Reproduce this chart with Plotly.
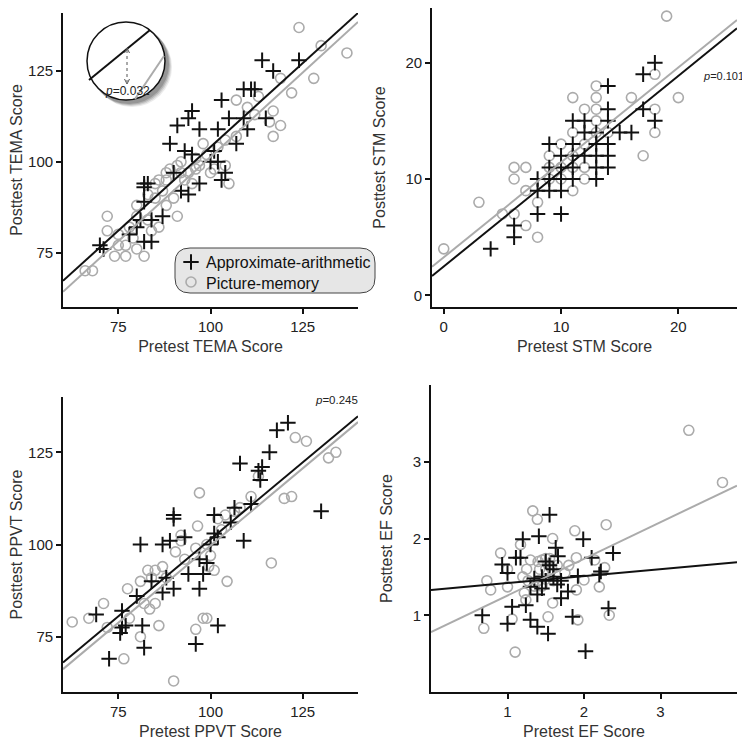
import plotly.graph_objects as go

W, H = 750, 741          # browser window
OFF = 8                  # default page body margin
FW, FH = W - OFF, H - OFF

# ---------------- DATA ----------------
# Panel 1: TEMA
tema_aa_pre = [70, 71, 78, 80, 81, 84, 82, 84, 87, 82, 82, 82, 83, 90, 92, 94, 89, 91, 94, 95, 93, 95, 97, 97,
               100, 102, 104, 103, 101, 102, 103, 105, 107, 109, 110, 109, 111, 112, 115, 114, 117, 124]
tema_aa_post = [77, 76, 80, 82, 84, 84, 78, 78, 85, 89, 94, 93, 94, 97, 92, 91, 105, 110, 112, 114, 103, 102, 109, 94,
                100, 100, 97, 95, 103, 109, 117, 112, 105, 112, 109, 120, 120, 120, 112, 128, 125, 128]
tema_pm_pre = [124, 130, 137, 128, 122, 119, 117, 119, 117, 113, 107, 105, 100, 98, 96, 92, 92, 88, 88, 85, 83, 80,
               91, 90, 86, 83, 72, 72, 75, 74, 77, 80, 82, 78, 66, 68, 86, 89, 91, 94, 96, 99, 102, 104, 107, 110,
               112, 75, 79, 84, 88, 93, 97, 101, 85, 80, 77, 104, 95, 87, 116]
tema_pm_post = [137, 132, 130, 123, 119, 123, 114, 110, 107, 118, 117, 94, 97, 105, 98, 100, 97, 97, 95, 94, 91, 88,
                85, 90, 82, 84, 85, 81, 77, 74, 74, 76, 74, 82, 70, 70, 95, 98, 99, 97, 101, 102, 104, 106, 107, 115,
                113, 80, 79, 81, 88, 95, 99, 98, 90, 85, 77, 99, 94, 92, 111]

# Panel 2: STM
stm_aa_pre = [4, 6, 6, 8, 10, 8, 9, 10, 8, 9, 11, 9, 10, 11, 10, 9, 11, 12, 11, 12, 12, 13, 13, 13, 13, 13,
              14, 14, 14, 14, 14, 14, 15, 16, 17, 17, 18, 18, 10, 11]
stm_aa_post = [4, 5, 6, 7, 7, 9, 9, 9, 10, 10, 10, 11, 11, 11, 12, 13, 13, 12, 15, 15, 14, 14, 12, 10, 11, 13,
               11, 12, 13, 15, 16, 18, 14, 14, 16, 19, 20, 15, 10, 12]
stm_pm_pre = [0, 3, 5, 6, 6, 6, 7, 7, 7, 8, 8, 11, 11, 11, 12, 12, 13, 13, 13, 13, 16, 17, 18, 18, 18, 19, 20,
              9, 10, 10, 11, 12, 10, 9, 12, 13, 14, 11, 9]
stm_pm_post = [4, 8, 7, 7, 11, 10, 11, 9, 6, 5, 8, 14, 9, 17, 13, 10, 18, 17, 16, 14, 17, 12, 19, 16, 14, 24, 17,
               10, 10, 11, 12, 11, 13, 12, 16, 15, 14, 11, 11]

# Panel 3: PPVT
ppvt_aa_pre = [72.5, 69, 76, 75.5, 76, 77, 81.5, 82, 80, 81, 84, 87, 87, 88, 90, 90, 90, 94, 93, 97, 96, 98, 101,
               99, 102, 102, 101, 105.5, 106.5, 108, 109, 111, 114, 113, 113.5, 116, 118, 121, 130, 89, 100, 97]
ppvt_aa_post = [69, 81, 82, 76, 77.5, 78, 78, 72, 86, 100, 90, 100, 87, 91, 108, 107, 88, 92, 102, 88, 73, 92, 108,
                95, 102, 78, 103, 106, 110, 122, 101, 111, 121, 120, 117.5, 125, 131, 133, 109, 101, 100, 96]
ppvt_pm_pre = [62.5, 67, 71, 72, 76.5, 77.5, 81, 81, 83, 83.5, 85, 86, 87, 90, 90.5, 92, 92, 96, 96.5, 97, 98, 101,
               104.5, 102, 106.5, 113, 116.5, 120, 122, 123, 126, 132, 134, 99.5, 99, 85, 84, 88, 93, 96, 99, 103,
               104, 108, 111, 100, 78, 82]
ppvt_pm_post = [79, 80, 84, 77.5, 69, 88, 90, 75, 93, 82.5, 84, 78, 94, 63, 98, 101, 102.5, 77, 105, 114, 80, 93,
                90, 107, 109, 118.5, 95, 112.5, 113, 129, 128, 123.5, 125, 94, 80, 93, 91, 91, 96, 99, 100, 104,
                108, 110, 113, 97, 80, 84]

# Panel 4: EF
ef_aa_pre = [0.67, 1.0, 1.0, 0.93, 1.11, 1.17, 1.06, 1.2, 1.24, 1.41, 1.55, 1.39, 1.3, 1.39, 1.53, 1.63, 1.66, 1.7,
             1.79, 1.85, 1.92, 1.99, 2.1, 2.2, 2.22, 2.38, 2.32, 2.02, 1.3, 1.35, 1.45, 1.5, 1.6, 1.7, 1.55, 1.6,
             1.5, 1.45, 1.65]
ef_aa_post = [1.0, 0.89, 1.55, 1.66, 1.75, 1.75, 1.11, 1.99, 1.13, 2.03, 2.31, 1.27, 0.94, 0.85, 0.76, 1.88, 1.77,
              1.22, 1.31, 0.98, 1.51, 1.99, 1.75, 1.53, 1.57, 1.81, 1.09, 0.53, 1.37, 1.48, 1.5, 1.45, 1.5, 1.45,
              1.65, 1.6, 1.7, 1.35, 1.4]
ef_pm_pre = [3.37, 3.81, 2.29, 1.88, 1.33, 1.39, 1.59, 0.91, 0.73, 0.78, 0.69, 1.0, 1.1, 1.06, 1.17, 1.24, 1.53,
             1.59, 1.92, 1.9, 2.2, 2.27, 2.33, 2.0, 1.9, 2.14, 1.22, 1.3, 1.4, 1.45, 1.5, 1.55, 1.6, 1.65, 1.42,
             1.5, 1.58, 1.27, 1.4, 1.5, 1.6, 1.35, 1.45, 1.75, 1.8, 1.25, 1.0, 1.2]
ef_pm_post = [3.41, 2.73, 2.18, 2.1, 2.36, 2.25, 2.0, 1.81, 1.45, 1.33, 0.83, 1.37, 0.52, 0.95, 1.92, 1.2, 0.98,
              1.16, 0.94, 1.33, 1.37, 1.62, 1.0, 1.46, 1.75, 1.72, 1.29, 1.72, 1.7, 1.72, 1.74, 1.74, 1.72, 1.65,
              1.6, 1.6, 1.6, 1.45, 1.45, 1.47, 1.45, 1.38, 1.38, 1.55, 1.65, 1.6, 1.6, 1.5]

# Regression lines: (intercept, slope)
fit_aa = [(11.85, 0.9225), (2.48, 0.819), (17.9, 0.835), (1.33, 0.09)]
fit_pm = [(8.46, 0.929), (3.27, 0.816), (15.95, 0.8375), (0.78, 0.4775)]

p_labels = ["0.032", "0.101", "0.245"]

x_titles = ["Pretest TEMA Score", "Pretest STM Score", "Pretest PPVT Score", "Pretest EF Score"]
y_titles = ["Posttest TEMA Score", "Posttest STM Score", "Posttest PPVT Score", "Posttest EF Score"]
x_ranges = [[60, 140], [-1, 25], [60, 140], [0, 4]]
y_ranges = [[60, 141], [-1, 24.7], [60, 140], [0, 4]]
x_ticks = [[75, 100, 125], [0, 10, 20], [75, 100, 125], [1, 2, 3]]
y_ticks = [[75, 100, 125], [0, 10, 20], [75, 100, 125], [1, 2, 3]]
legend_names = ["Approximate-arithmetic", "Picture-memory"]


# ---------------- LAYOUT HELPERS (page pixels -> paper) ----------------
def px(x):
    return (x - OFF) / FW


def py(y):
    return 1 - (y - OFF) / FH


def clamp(v):
    return max(0.0, min(1.0, v))


# plot areas in page pixels: (left, right, top, bottom)
boxes = [(63, 358, 13, 307), (432, 737, 8, 307), (63, 358, 397, 692), (431, 737, 385, 692)]

BLACK = "#111111"
GRAY = "#ababab"
FONT = "Liberation Sans, Arial, Helvetica, sans-serif"

fig = go.Figure()

aa_sets = [(tema_aa_pre, tema_aa_post), (stm_aa_pre, stm_aa_post), (ppvt_aa_pre, ppvt_aa_post),
           (ef_aa_pre, ef_aa_post)]
pm_sets = [(tema_pm_pre, tema_pm_post), (stm_pm_pre, stm_pm_post), (ppvt_pm_pre, ppvt_pm_post),
           (ef_pm_pre, ef_pm_post)]

for i in range(4):
    xa = "x" if i == 0 else f"x{i+1}"
    ya = "y" if i == 0 else f"y{i+1}"
    px_, py_ = pm_sets[i]
    fig.add_trace(go.Scatter(x=px_, y=py_, mode="markers", xaxis=xa, yaxis=ya, showlegend=False,
                             marker=dict(symbol="circle-open", size=10, color=GRAY,
                                         line=dict(width=1.6, color=GRAY))))
    ax_, ay_ = aa_sets[i]
    fig.add_trace(go.Scatter(x=ax_, y=ay_, mode="markers", xaxis=xa, yaxis=ya, showlegend=False,
                             marker=dict(symbol="cross-thin", size=11, color=BLACK,
                                         line=dict(width=2, color=BLACK))))
    lo, hi = x_ranges[i]
    b0, b1 = fit_pm[i]
    fig.add_trace(go.Scatter(x=[lo, hi], y=[b0 + b1 * lo, b0 + b1 * hi], mode="lines", xaxis=xa, yaxis=ya,
                             showlegend=False, line=dict(color=GRAY, width=2)))
    b0, b1 = fit_aa[i]
    fig.add_trace(go.Scatter(x=[lo, hi], y=[b0 + b1 * lo, b0 + b1 * hi], mode="lines", xaxis=xa, yaxis=ya,
                             showlegend=False, line=dict(color=BLACK, width=2)))

# overlay pixel axis for legend symbols
fig.add_trace(go.Scatter(x=[191], y=[262], mode="markers", xaxis="x5", yaxis="y5", showlegend=False,
                         marker=dict(symbol="cross-thin", size=11, color=BLACK, line=dict(width=2, color=BLACK))))
fig.add_trace(go.Scatter(x=[191], y=[282], mode="markers", xaxis="x5", yaxis="y5", showlegend=False,
                         marker=dict(symbol="circle-open", size=10, color=GRAY, line=dict(width=1.6, color=GRAY))))

layout = dict(
    width=FW, height=FH, margin=dict(l=0, r=0, t=0, b=0),
    paper_bgcolor="white", plot_bgcolor="rgba(0,0,0,0)",
    font=dict(family=FONT, color="#222"),
    showlegend=False,
)

for i in range(4):
    l, r, t, b = boxes[i]
    xk = "xaxis" if i == 0 else f"xaxis{i+1}"
    yk = "yaxis" if i == 0 else f"yaxis{i+1}"
    xa = "x" if i == 0 else f"x{i+1}"
    ya = "y" if i == 0 else f"y{i+1}"
    common = dict(showline=True, linecolor="#111", linewidth=1.8, ticks="outside", ticklen=5, tickwidth=1.5,
                  tickcolor="#111", showgrid=False, zeroline=False, automargin=False,
                  tickfont=dict(size=15, color="#222", family=FONT))
    layout[xk] = dict(common, domain=[clamp(px(l)), clamp(px(r))], range=x_ranges[i], tickvals=x_ticks[i],
                      anchor=ya,
                      title=dict(text=x_titles[i], font=dict(size=16, color="#333", family=FONT), standoff=7))
    layout[yk] = dict(common, domain=[clamp(py(b)), clamp(py(t))], range=y_ranges[i], tickvals=y_ticks[i],
                      anchor=xa,
                      title=dict(text=y_titles[i], font=dict(size=16, color="#333", family=FONT), standoff=16))

layout["xaxis5"] = dict(domain=[0, 1], range=[OFF, W], visible=False, anchor="y5", fixedrange=True)
layout["yaxis5"] = dict(domain=[0, 1], range=[H, OFF], visible=False, anchor="x5", fixedrange=True)

fig.update_layout(**layout)


def rounded_rect(x0, y0, x1, y1, r):
    return (f"M {px(x0 + r)} {py(y0)} L {px(x1 - r)} {py(y0)} "
            f"Q {px(x1)} {py(y0)} {px(x1)} {py(y0 + r)} L {px(x1)} {py(y1 - r)} "
            f"Q {px(x1)} {py(y1)} {px(x1 - r)} {py(y1)} L {px(x0 + r)} {py(y1)} "
            f"Q {px(x0)} {py(y1)} {px(x0)} {py(y1 - r)} L {px(x0)} {py(y0 + r)} "
            f"Q {px(x0)} {py(y0)} {px(x0 + r)} {py(y0)} Z")


shapes = []
# legend box
shapes.append(dict(type="path", xref="paper", yref="paper", path=rounded_rect(175, 248, 375, 293, 15),
                   fillcolor="#e6e6e6", line=dict(color="#444", width=1), layer="below"))

# inset circle (magnifier)
cx, cy, rr = 126, 61, 39
for off, op in [(6, 0.10), (5, 0.15), (4, 0.2), (3, 0.25)]:
    shapes.append(dict(type="circle", xref="paper", yref="paper",
                       x0=px(cx - rr + off - 1), x1=px(cx + rr + off + 1),
                       y0=py(cy + rr + off + 1), y1=py(cy - rr + off - 1),
                       fillcolor=f"rgba(60,60,60,{op})", line=dict(width=0), layer="above"))
shapes.append(dict(type="circle", xref="paper", yref="paper",
                   x0=px(cx - rr), x1=px(cx + rr), y0=py(cy + rr), y1=py(cy - rr),
                   fillcolor="white", line=dict(color="#111", width=1.5), layer="above"))
shapes.append(dict(type="line", xref="paper", yref="paper", x0=px(89), y0=py(80), x1=px(150), y1=py(30),
                   line=dict(color="#111", width=2), layer="above"))
shapes.append(dict(type="line", xref="paper", yref="paper", x0=px(135), y0=py(99), x1=px(164), y1=py(56),
                   line=dict(color=GRAY, width=2), layer="above"))
shapes.append(dict(type="line", xref="paper", yref="paper", x0=px(127), y0=py(50), x1=px(127), y1=py(82),
                   line=dict(color="#555", width=1, dash="dot"), layer="above"))
shapes.append(dict(type="path", xref="paper", yref="paper",
                   path=f"M {px(124.5)} {py(53)} L {px(127)} {py(48)} L {px(129.5)} {py(53)}",
                   line=dict(color="#555", width=1), layer="above"))
shapes.append(dict(type="path", xref="paper", yref="paper",
                   path=f"M {px(124.5)} {py(79)} L {px(127)} {py(84)} L {px(129.5)} {py(79)}",
                   line=dict(color="#555", width=1), layer="above"))

annotations = []
annotations.append(dict(xref="paper", yref="paper", x=px(128), y=py(91), xanchor="center", yanchor="middle",
                        text=f"<i>p</i>={p_labels[0]}", showarrow=False,
                        font=dict(size=12, color="#222", family=FONT)))
annotations.append(dict(xref="paper", yref="paper", x=px(746), y=py(76), xanchor="right", yanchor="middle",
                        text=f"<i>p</i>={p_labels[1]}", showarrow=False,
                        font=dict(size=11, color="#222", family=FONT)))
annotations.append(dict(xref="paper", yref="paper", x=px(360), y=py(400), xanchor="right", yanchor="middle",
                        text=f"<i>p</i>={p_labels[2]}", showarrow=False,
                        font=dict(size=11.5, color="#222", family=FONT)))
annotations.append(dict(xref="paper", yref="paper", x=px(204), y=py(262), xanchor="left", yanchor="middle",
                        text=legend_names[0], showarrow=False, font=dict(size=16, color="#111", family=FONT)))
annotations.append(dict(xref="paper", yref="paper", x=px(204), y=py(283), xanchor="left", yanchor="middle",
                        text=legend_names[1], showarrow=False, font=dict(size=16, color="#111", family=FONT)))

fig.update_layout(shapes=shapes, annotations=annotations)
fig.write_html("out.html")
